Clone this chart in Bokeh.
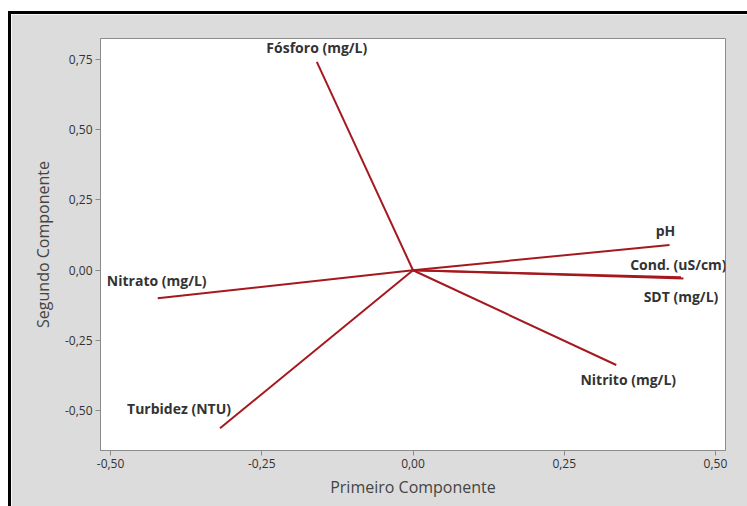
from bokeh.plotting import figure
from bokeh.models import Range1d, FixedTicker, CustomJSTickFormatter, ColumnDataSource
from bokeh.core.properties import value
from bokeh.embed import file_html
from bokeh.resources import INLINE

# Loadings
variables = ["Fósforo (mg/L)", "pH", "Cond. (uS/cm)", "SDT (mg/L)",
             "Nitrito (mg/L)", "Nitrato (mg/L)", "Turbidez (NTU)"]
pc1 = [-0.159, 0.424, 0.447, 0.443, 0.336, -0.422, -0.319]
pc2 = [0.741, 0.090, -0.029, -0.025, -0.337, -0.100, -0.562]
x_ticks = [-0.5, -0.25, 0.0, 0.25, 0.5]
y_ticks = [-0.5, -0.25, 0.0, 0.25, 0.5, 0.75]

# label placement offsets in screen pixels (styling only)
label_dx = [0, -4, -5, 0, 12, -1, -41]
label_dy = [-14, -14, -14, 19, 14, -18, -20]

src = ColumnDataSource(dict(
    var=variables, pc1=pc1, pc2=pc2, x0=[0.0] * len(pc1), y0=[0.0] * len(pc1),
    dx=label_dx, dy=label_dy))

GRAY = "#dcdcdc"
TXT = "#333333"

p = figure(width=736, height=492, output_backend="svg", toolbar_location=None,
           x_range=Range1d(-0.5166, 0.5166), y_range=Range1d(-0.641, 0.824),
           min_border_left=89, min_border_right=25, min_border_top=24, min_border_bottom=59)
p.styles = {"margin-left": "8px", "margin-top": "11px",
            "border-left": "3px solid #000000", "border-top": "3px solid #000000",
            "box-sizing": "content-box"}
p.background_fill_color = "white"
p.border_fill_color = GRAY
p.outline_line_color = "#8c8c8c"
p.outline_line_width = 1
p.grid.visible = False

p.segment(x0="x0", y0="y0", x1="pc1", y1="pc2", source=src,
          line_color="#a5181e", line_width=2)
p.text(x="pc1", y="pc2", text="var", x_offset="dx", y_offset="dy", source=src,
       text_align="center", text_baseline="middle",
       text_font=value("Open Sans"), text_font_style="bold",
       text_font_size="14px", text_color=TXT)

fmt = CustomJSTickFormatter(code="return tick.toFixed(2).replace('.', ',');")
for ax, ticks in ((p.xaxis, x_ticks), (p.yaxis, y_ticks)):
    ax.ticker = FixedTicker(ticks=ticks)
    ax.formatter = fmt
    ax.axis_line_color = "#8c8c8c"
    ax.major_tick_line_color = "#8c8c8c"
    ax.major_tick_out = 5
    ax.major_tick_in = 0
    ax.minor_tick_line_color = None
    ax.major_label_text_font = "Open Sans"
    ax.major_label_text_font_size = "12px"
    ax.major_label_text_color = TXT
    ax.axis_label_text_font = "Open Sans"
    ax.axis_label_text_font_size = "16px"
    ax.axis_label_text_font_style = "normal"
    ax.axis_label_text_color = "#444444"

p.xaxis.axis_label = "Primeiro Componente"
p.yaxis.axis_label = "Segundo Componente"
p.xaxis.axis_label_standoff = 5
p.yaxis.axis_label_standoff = 8
p.xaxis.major_label_standoff = 3
p.yaxis.major_label_standoff = 3

open("out.html", "w").write(file_html(p, INLINE))
